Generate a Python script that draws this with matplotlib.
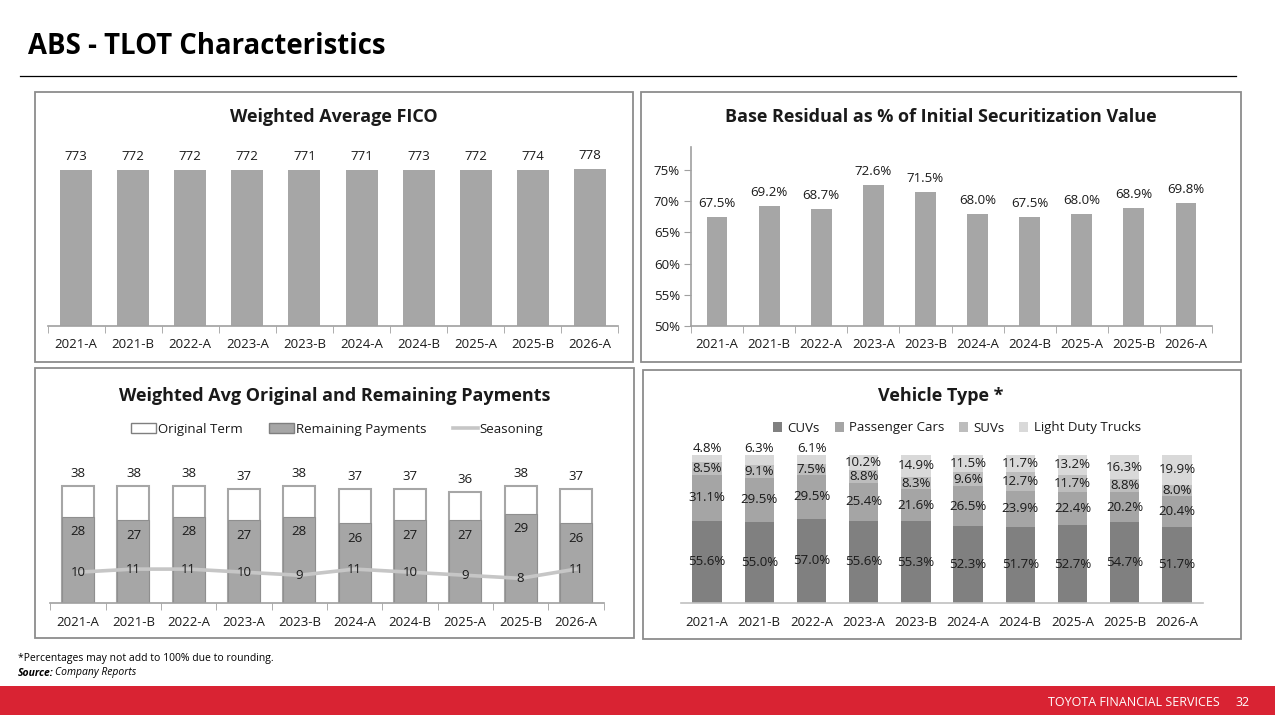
import matplotlib
matplotlib.use('Agg')
import matplotlib.pyplot as plt
from matplotlib.patches import Rectangle, Patch
from matplotlib.lines import Line2D

# deal names shared by all four panels
deals = ['2021-A', '2021-B', '2022-A', '2023-A', '2023-B',
         '2024-A', '2024-B', '2025-A', '2025-B', '2026-A']
fico = [773, 772, 772, 772, 771, 771, 773, 772, 774, 778]
residual = [67.5, 69.2, 68.7, 72.6, 71.5, 68.0, 67.5, 68.0, 68.9, 69.8]
original_term = [38, 38, 38, 37, 38, 37, 37, 36, 38, 37]
remaining = [28, 27, 28, 27, 28, 26, 27, 27, 29, 26]
seasoning = [10, 11, 11, 10, 9, 11, 10, 9, 8, 11]
cuvs = [55.6, 55.0, 57.0, 55.6, 55.3, 52.3, 51.7, 52.7, 54.7, 51.7]
pass_cars = [31.1, 29.5, 29.5, 25.4, 21.6, 26.5, 23.9, 22.4, 20.2, 20.4]
suvs = [8.5, 9.1, 7.5, 8.8, 8.3, 9.6, 12.7, 11.7, 8.8, 8.0]
trucks = [4.8, 6.3, 6.1, 10.2, 14.9, 11.5, 11.7, 13.2, 16.3, 19.9]
vehicle_names = ['CUVs', 'Passenger Cars', 'SUVs', 'Light Duty Trucks']

plt.rcParams['font.family'] = ['Open Sans', 'DejaVu Sans']

W, H = 1275, 715
BAR = '#a6a6a6'
AXIS = '#a0a0a0'
TXT = '#1a1a1a'
fig = plt.figure(figsize=(W / 100, H / 100), dpi=100)


def axes_px(x0, y0, x1, y1):
    return fig.add_axes([x0 / W, 1 - y1 / H, (x1 - x0) / W, (y1 - y0) / H])


def frame_px(x0, y0, x1, y1):
    fig.patches.append(Rectangle((x0 / W, 1 - y1 / H), (x1 - x0) / W, (y1 - y0) / H,
                                 transform=fig.transFigure, fill=False,
                                 edgecolor='#8c8c8c', linewidth=1.3))


def fig_text(x, y, s, **kw):
    fig.text(x / W, 1 - y / H, s, **kw)


def style_x(ax, ticks_between=True):
    ax.set_xlim(-0.5, len(deals) - 0.5)
    ax.set_xticks(range(len(deals)))
    ax.set_xticklabels(deals, fontsize=9.5, color=TXT)
    ax.tick_params(axis='x', length=0, pad=9)
    if ticks_between:
        ax.set_xticks([i - 0.5 for i in range(len(deals) + 1)], minor=True)
        ax.tick_params(axis='x', which='minor', length=5, color=AXIS, direction='out')
    for s in ['top', 'right', 'left']:
        ax.spines[s].set_visible(False)
    ax.spines['bottom'].set_color(AXIS)
    ax.spines['bottom'].set_linewidth(1.2)


x = list(range(len(deals)))

# header
fig_text(28, 46, 'ABS - TLOT Characteristics', fontsize=19.8, fontweight='bold',
         va='center', ha='left', color='black')
fig.add_artist(Line2D([20 / W, 1236 / W], [1 - 76 / H, 1 - 76 / H],
                      transform=fig.transFigure, color='black', linewidth=0.9))

# panel frames
frame_px(35, 92, 633, 362)
frame_px(641, 92, 1241, 362)
frame_px(35, 368, 634, 638)
frame_px(643, 370, 1241, 639)

# Weighted Average FICO
ax1 = axes_px(47.5, 140, 618.5, 326)
ax1.bar(x, fico, width=0.56, color=BAR)
ax1.set_ylim(0, 920)
ax1.set_yticks([])
style_x(ax1)
for i, v in enumerate(fico):
    ax1.annotate(str(v), (i, v), xytext=(0, 5), textcoords='offset points',
                 ha='center', va='bottom', fontsize=9.5, color=TXT)
fig_text(334, 117, 'Weighted Average FICO', fontsize=13, fontweight='bold',
         ha='center', va='center', color=TXT)

# Base Residual
ax2 = axes_px(691, 147, 1212, 326)
ax2.bar(x, residual, width=0.4, color=BAR)
ax2.set_ylim(50, 78.7)
ax2.set_yticks([50, 55, 60, 65, 70, 75])
ax2.set_yticklabels([f'{t}%' for t in [50, 55, 60, 65, 70, 75]], fontsize=9.5, color=TXT)
style_x(ax2)
ax2.spines['left'].set_visible(True)
ax2.spines['left'].set_color(AXIS)
ax2.spines['left'].set_linewidth(1.2)
ax2.tick_params(axis='y', length=5, color=AXIS, pad=3)
for i, v in enumerate(residual):
    ax2.annotate(f'{v:.1f}%', (i, v), xytext=(0, 5), textcoords='offset points',
                 ha='center', va='bottom', fontsize=9.5, color=TXT)
fig_text(941, 117, 'Base Residual as % of Initial Securitization Value', fontsize=13,
         fontweight='bold', ha='center', va='center', color=TXT)

# Original and Remaining Payments
ax3 = axes_px(50.5, 460, 603.5, 603)
ax3.bar(x, original_term, width=0.58, color='white', edgecolor=BAR, linewidth=1.5)
ax3.bar(x, remaining, width=0.58, color=BAR, edgecolor='#8f8f8f', linewidth=0.8)
ax3.plot(x, seasoning, color='#c6c6c6', linewidth=2.6, zorder=3)
ax3.set_ylim(0, 46.4)
ax3.set_yticks([])
style_x(ax3)
for i in x:
    ax3.annotate(str(original_term[i]), (i, original_term[i]), xytext=(0, 4),
                 textcoords='offset points', ha='center', va='bottom', fontsize=9.5, color=TXT)
    ax3.annotate(str(remaining[i]), (i, remaining[i]), xytext=(0, -11),
                 textcoords='offset points', ha='center', va='center', fontsize=9.5, color=TXT)
    ax3.text(i, seasoning[i], str(seasoning[i]), ha='center', va='center',
             fontsize=9.5, color=TXT, zorder=4)
fig_text(335, 396, 'Weighted Avg Original and Remaining Payments', fontsize=13,
         fontweight='bold', ha='center', va='center', color=TXT)
handles3 = [Patch(facecolor='white', edgecolor='#7f7f7f', label='Original Term'),
            Patch(facecolor=BAR, edgecolor='#7f7f7f', label='Remaining Payments'),
            Line2D([], [], color='#c6c6c6', linewidth=2.6, label='Seasoning')]
fig.legend(handles=handles3, loc='center', bbox_to_anchor=(337 / W, 1 - 429 / H), ncol=3,
           frameon=False, fontsize=9.5, handlelength=1.9, handleheight=0.8,
           handletextpad=0.15, columnspacing=2.0, labelcolor=TXT)

# Vehicle Type
ax4 = axes_px(681, 445, 1203, 603)
colors4 = ['#808080', '#a5a5a5', '#bdbdbd', '#d9d9d9']
bottom = [0.0] * len(deals)
for name, vals, col in zip(vehicle_names, [cuvs, pass_cars, suvs, trucks], colors4):
    ax4.bar(x, vals, width=0.56, bottom=bottom, color=col, label=name)
    for i, v in enumerate(vals):
        if v < 7 and name == 'Light Duty Trucks':
            ax4.annotate(f'{v:.1f}%', (i, bottom[i] + v), xytext=(0, 0),
                         textcoords='offset points', ha='center', va='bottom',
                         fontsize=9.5, color=TXT)
        else:
            ax4.text(i, bottom[i] + v / 2, f'{v:.1f}%', ha='center', va='center',
                     fontsize=9.5, color=TXT)
    bottom = [b + v for b, v in zip(bottom, vals)]
ax4.set_ylim(0, 106.8)
ax4.set_yticks([])
style_x(ax4, ticks_between=False)
ax4.spines['bottom'].set_color('#c0c0c0')
fig_text(941, 396, 'Vehicle Type *', fontsize=13, fontweight='bold',
         ha='center', va='center', color=TXT)
h4, l4 = ax4.get_legend_handles_labels()
fig.legend(h4, l4, loc='center', bbox_to_anchor=(957 / W, 1 - 428 / H), ncol=4,
           frameon=False, fontsize=9.5, handlelength=0.7, handleheight=0.7,
           handletextpad=0.4, columnspacing=1.1, labelcolor=TXT)

# footnotes
foot_font = ['Liberation Sans Narrow', 'Open Sans', 'DejaVu Sans']
fig_text(18, 659, '*Percentages may not add to 100% due to rounding.', fontsize=7.5,
         family=foot_font, ha='left', va='center', color='black')
fig_text(18, 673, 'Source:', fontsize=7.5, family=foot_font, fontweight='bold',
         style='italic', ha='left', va='center', color='black')
fig_text(55, 673, 'Company Reports', fontsize=7.5, family=foot_font,
         style='italic', ha='left', va='center', color='black')

# red footer band
fig.patches.append(Rectangle((0, 0), 1, (715 - 686) / H, transform=fig.transFigure,
                             facecolor='#d92333', edgecolor='none'))
fig_text(1220, 702, 'TOYOTA FINANCIAL SERVICES', fontsize=9, family=foot_font,
         ha='right', va='center', color='white')
fig_text(1250, 702, '32', fontsize=9, family=foot_font,
         ha='right', va='center', color='white')

fig.savefig('out.png', dpi=100)
